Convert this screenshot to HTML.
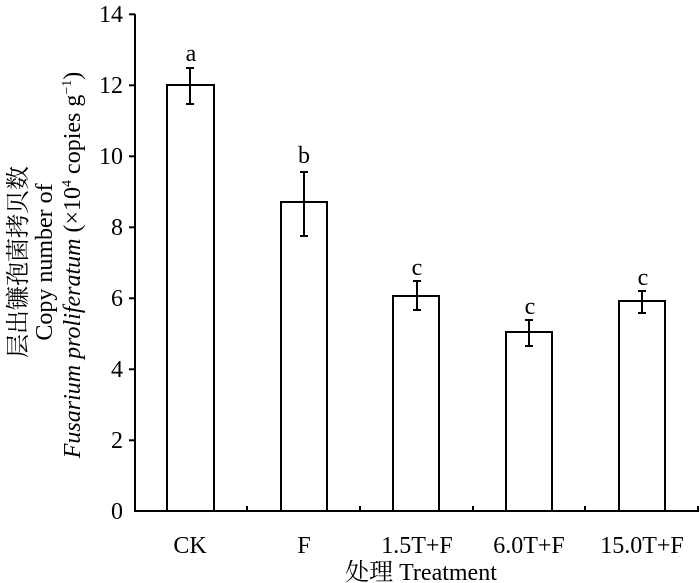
<!DOCTYPE html>
<html><head><meta charset="utf-8"><style>
body{margin:0;background:#fff;}
svg{display:block;font-family:"Liberation Serif","Noto Serif CJK SC",serif;}
</style></head><body>
<svg width="700" height="583" viewBox="0 0 700 583" xmlns="http://www.w3.org/2000/svg">
<g stroke="#000" stroke-width="2" fill="none">
<line x1="135" y1="14" x2="135" y2="512"/>
<line x1="134" y1="511" x2="699" y2="511"/>
<line x1="129" y1="14.3" x2="135" y2="14.3"/>
<line x1="129" y1="85.3" x2="135" y2="85.3"/>
<line x1="129" y1="156.3" x2="135" y2="156.3"/>
<line x1="129" y1="227.3" x2="135" y2="227.3"/>
<line x1="129" y1="298.3" x2="135" y2="298.3"/>
<line x1="129" y1="369.3" x2="135" y2="369.3"/>
<line x1="129" y1="440.3" x2="135" y2="440.3"/>
<line x1="247" y1="506" x2="247" y2="511"/>
<line x1="360" y1="506" x2="360" y2="511"/>
<line x1="473" y1="506" x2="473" y2="511"/>
<line x1="585" y1="506" x2="585" y2="511"/>
<line x1="698" y1="506" x2="698" y2="511"/>
<rect x="167" y="85" width="47" height="426"/>
<rect x="281" y="202" width="46" height="309"/>
<rect x="393" y="296" width="46" height="215"/>
<rect x="506" y="332" width="46" height="179"/>
<rect x="619" y="301" width="46" height="210"/>
<path d="M190 68V104M186 68H194M186 104H194"/>
<path d="M304 172V236M300 172H308M300 236H308"/>
<path d="M417 281V310M413 281H421M413 310H421"/>
<path d="M529 320V346M525 320H533M525 346H533"/>
<path d="M642 291V313M638 291H646M638 313H646"/>
</g>
<g font-size="24" text-anchor="end">
<text x="123" y="22">14</text><text x="123" y="93">12</text><text x="123" y="164">10</text>
<text x="123" y="235">8</text><text x="123" y="306">6</text><text x="123" y="377">4</text>
<text x="123" y="448">2</text><text x="123" y="519">0</text>
</g>
<g font-size="24" text-anchor="middle">
<text x="191" y="61">a</text><text x="304" y="163">b</text><text x="417" y="275">c</text>
<text x="530" y="314">c</text><text x="643" y="285">c</text>
<text x="190" y="553">CK</text><text x="304" y="553">F</text><text x="417" y="553">1.5T+F</text>
<text x="529" y="553">6.0T+F</text><text x="642" y="553">15.0T+F</text>
<text x="421" y="580">处理 Treatment</text>
<g transform="translate(26,262) rotate(-90)"><text>层出镰孢菌拷贝数</text></g>
<g transform="translate(52,262) rotate(-90)"><text>Copy number of</text></g>
<g transform="translate(80,265) rotate(-90)"><text><tspan font-style="italic">Fusarium proliferatum</tspan> (×10<tspan font-size="14" dy="-9">4</tspan><tspan dy="9"> copies g</tspan><tspan font-size="14" dy="-9">−1</tspan><tspan dy="9">)</tspan></text></g>
</g>
</svg>
</body></html>
